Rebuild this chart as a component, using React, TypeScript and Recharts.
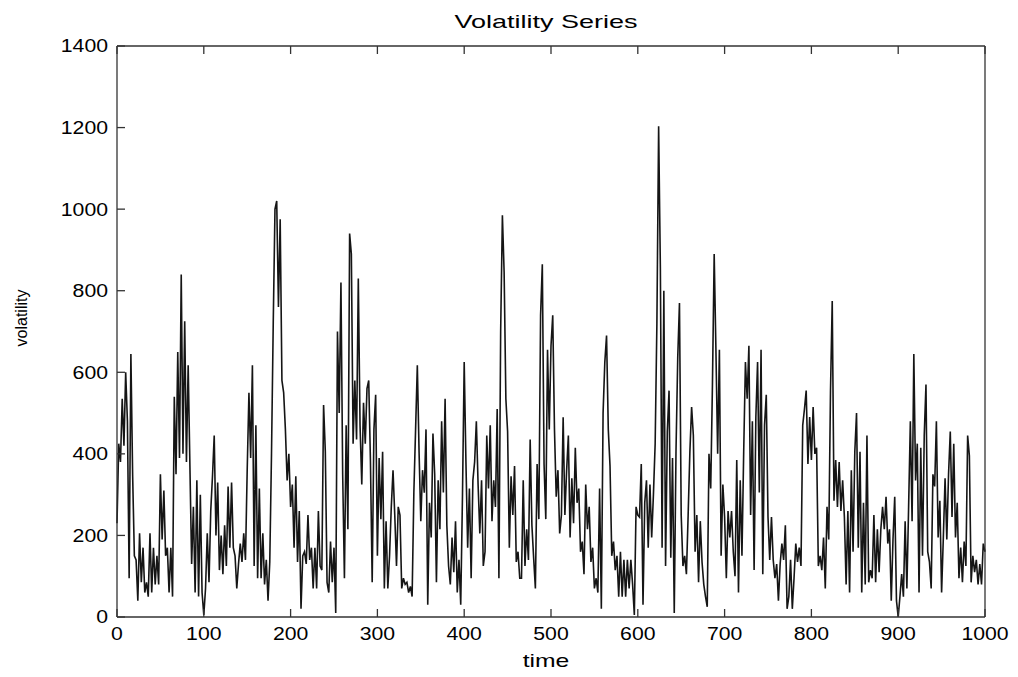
import { LineChart, Line, XAxis, YAxis } from 'recharts'

// volatility every 2 time steps
const vol000to086 = [
  230, 425, 380, 535, 420, 600, 480, 95, 645, 350, 150, 140, 40, 205, 85, 170, 60, 85, 50, 205, 60, 170,
  80, 150, 80, 350, 190, 310, 150, 170, 60, 170, 50, 540, 350, 650, 390, 840, 400, 725, 380, 617, 370, 130,
]
const vol088to174 = [
  270, 60, 335, 50, 300, 60, 5, 70, 205, 85, 260, 345, 445, 200, 330, 115, 200, 105, 225, 125, 320, 170,
  330, 170, 150, 70, 130, 180, 135, 205, 140, 360, 550, 390, 617, 125, 470, 95, 315, 95, 205, 80, 140, 40,
]
const vol176to260 = [
  135, 400, 720, 1000, 1020, 760, 975, 580, 550, 460, 335, 400, 270, 325, 170, 345, 135, 260, 20, 150, 160, 130,
  250, 140, 170, 70, 170, 70, 260, 125, 115, 520, 405, 85, 60, 185, 85, 170, 10, 700, 500, 820, 350,
]
const vol262to346 = [
  95, 470, 215, 940, 890, 425, 580, 435, 830, 470, 325, 525, 425, 560, 580, 380, 85, 460, 545, 150, 390, 240,
  405, 70, 235, 70, 150, 270, 360, 250, 125, 270, 250, 70, 95, 80, 85, 60, 75, 50, 305, 460, 617,
]
const vol348to430 = [
  405, 235, 360, 305, 460, 30, 280, 195, 450, 350, 85, 335, 215, 480, 305, 535, 225, 125, 80, 195, 110,
  235, 60, 140, 30, 295, 625, 380, 170, 315, 95, 335, 380, 480, 325, 205, 335, 125, 160, 445, 315, 470,
]
const vol432to518 = [
  235, 335, 270, 510, 95, 700, 985, 845, 535, 455, 170, 345, 250, 370, 135, 160, 95, 95, 335, 125, 215, 140,
  435, 225, 145, 70, 375, 240, 740, 865, 375, 240, 655, 460, 665, 740, 460, 295, 360, 205, 250, 490, 250, 360,
]
const vol520to600 = [
  445, 195, 340, 230, 415, 280, 315, 160, 185, 105, 325, 215, 270, 135, 170, 70, 95, 60, 315, 20, 500,
  625, 690, 460, 370, 150, 185, 115, 150, 50, 160, 50, 140, 50, 140, 70, 140, 80, 5, 270, 250,
]
const vol602to686 = [
  245, 375, 30, 280, 335, 170, 325, 195, 300, 425, 720, 1203, 855, 170, 800, 125, 455, 555, 145, 390, 10, 405,
  635, 770, 250, 125, 150, 105, 250, 405, 515, 445, 160, 250, 85, 235, 135, 80, 50, 25, 400, 315, 570,
]
const vol688to772 = [
  890, 655, 400, 655, 150, 325, 245, 95, 260, 195, 260, 160, 100, 385, 60, 335, 150, 405, 625, 535, 665, 250,
  480, 115, 490, 625, 305, 655, 105, 470, 545, 245, 140, 245, 140, 95, 130, 40, 130, 180, 140, 225, 20,
]
const vol774to864 = [
  50, 140, 20, 95, 180, 135, 170, 125, 470, 510, 555, 375, 490, 385, 515, 400, 415, 125, 150, 115, 195, 70, 270,
  190, 555, 775, 285, 385, 270, 380, 260, 335, 245, 80, 260, 60, 360, 160, 405, 500, 170, 405, 60, 280, 80, 445,
]
const vol866to950 = [
  85, 115, 95, 250, 85, 215, 110, 215, 270, 215, 295, 180, 215, 40, 190, 295, 40, 0, 50, 105, 50, 235,
  70, 270, 480, 235, 645, 335, 425, 60, 415, 150, 445, 570, 160, 135, 70, 350, 320, 480, 195, 285, 60,
]
const vol952to1000 = [
  195, 340, 190, 350, 455, 245, 425, 195, 280, 95, 170, 85, 185, 125, 445, 395, 85, 150, 110, 140, 80, 130, 80,
  180, 160,
]

const timeStep = 2
const timeTicks = [0, 100, 200, 300, 400, 500, 600, 700, 800, 900, 1000]
const volatilityTicks = [0, 200, 400, 600, 800, 1000, 1200, 1400]

const volatility = [
  ...vol000to086, ...vol088to174, ...vol176to260, ...vol262to346, ...vol348to430, ...vol432to518,
  ...vol520to600, ...vol602to686, ...vol688to772, ...vol774to864, ...vol866to950, ...vol952to1000,
]
const data = volatility.map((v, i) => ({ time: i * timeStep, volatility: v }))

const FONT = '"Liberation Sans", Arial, Helvetica, sans-serif'
const TICK_LEN = 8
const FRAME = '#333'

// the original export is stretched sideways, so horizontal text gets a scaleX
const BottomTick = ({ x, y, payload }: any) => (
  <g>
    <line x1={x} y1={y} x2={x} y2={y - TICK_LEN} stroke={FRAME} strokeWidth={1.3} />
    <text
      transform={`translate(${x},${y + 17}) scale(1.18,1)`} textAnchor="middle" dominantBaseline="central"
      fontSize={18} fontFamily={FONT} fill="#000"
    >
      {payload.value}
    </text>
  </g>
)
const TopTick = ({ x, y }: any) => (
  <line x1={x} y1={y} x2={x} y2={y + TICK_LEN} stroke={FRAME} strokeWidth={1.3} />
)
const LeftTick = ({ x, y, payload }: any) => (
  <g>
    <line x1={x} y1={y} x2={x + TICK_LEN} y2={y} stroke={FRAME} strokeWidth={1.3} />
    <text
      transform={`translate(${x - 9},${y}) scale(1.18,1)`} textAnchor="end" dominantBaseline="central"
      fontSize={18} fontFamily={FONT} fill="#000"
    >
      {payload.value}
    </text>
  </g>
)
const RightTick = ({ x, y }: any) => (
  <line x1={x} y1={y} x2={x - TICK_LEN} y2={y} stroke={FRAME} strokeWidth={1.3} />
)

export default function App() {
  return (
    <div style={{ position: 'relative', width: 1010, height: 669, background: '#fff', fontFamily: FONT }}>
      <div
        style={{
          position: 'absolute', left: 538, top: 3, transform: 'translateX(-50%) scaleX(1.42)',
          fontSize: 19, whiteSpace: 'nowrap',
        }}
      >
        Volatility Series
      </div>
      <div
        style={{
          position: 'absolute', left: 538, top: 642, transform: 'translateX(-50%) scaleX(1.3)',
          fontSize: 19, whiteSpace: 'nowrap',
        }}
      >
        time
      </div>
      <div
        style={{
          position: 'absolute', left: 14, top: 310, transform: 'translate(-50%, -50%) rotate(-90deg)',
          fontSize: 16, whiteSpace: 'nowrap',
        }}
      >
        volatility
      </div>
      <LineChart width={1010} height={669} data={data} margin={{ top: 37, right: 32, bottom: 0, left: 0 }}>
        <XAxis
          dataKey="time" type="number" domain={[0, 1000]} ticks={timeTicks} interval={0}
          height={60} tickSize={0} tickMargin={0} tickLine={false} tick={<BottomTick />}
          axisLine={{ stroke: FRAME, strokeWidth: 1.3 }}
        />
        <XAxis
          xAxisId="top" orientation="top" dataKey="time" type="number" domain={[0, 1000]} ticks={timeTicks}
          interval={0} height={1} tickSize={0} tickMargin={0} tickLine={false} tick={<TopTick />}
          axisLine={{ stroke: FRAME, strokeWidth: 1.3 }}
        />
        <YAxis
          type="number" domain={[0, 1400]} ticks={volatilityTicks} interval={0} width={109}
          tickSize={0} tickMargin={0} tickLine={false} tick={<LeftTick />}
          axisLine={{ stroke: FRAME, strokeWidth: 1.3 }}
        />
        <YAxis
          yAxisId="right" orientation="right" type="number" domain={[0, 1400]} ticks={volatilityTicks}
          interval={0} width={1} tickSize={0} tickMargin={0} tickLine={false} tick={<RightTick />}
          axisLine={{ stroke: FRAME, strokeWidth: 1.3 }}
        />
        <Line
          type="linear" dataKey="volatility" stroke="#151515" strokeWidth={1.6} dot={false}
          isAnimationActive={false}
        />
      </LineChart>
    </div>
  )
}
